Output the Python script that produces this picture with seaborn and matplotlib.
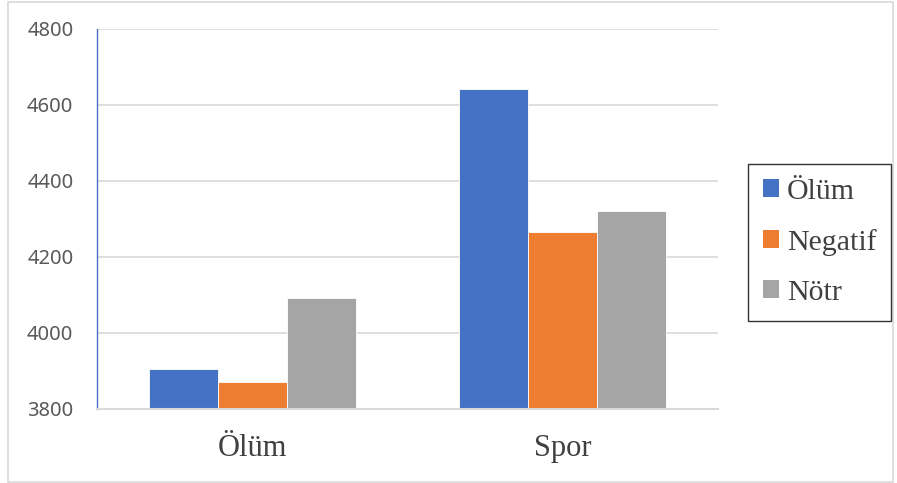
import pandas as pd
import seaborn as sns
import matplotlib.pyplot as plt
from matplotlib.patches import Rectangle, Patch

# data
categories = ['Ölüm', 'Spor']
series = ['Ölüm', 'Negatif', 'Nötr']
olum_vals = [3906, 4642]
negatif_vals = [3872, 4267]
notr_vals = [4091, 4322]
colors = ['#4472C4', '#ED7D31', '#A5A5A5']
yticks = [3800, 4000, 4200, 4400, 4600, 4800]

df = pd.DataFrame({
    'kategori': categories * 3,
    'seri': [s for s in series for _ in categories],
    'deger': olum_vals + negatif_vals + notr_vals,
})

sns.set_style('white')
plt.rcParams['font.family'] = ['Noto Sans', 'DejaVu Sans']

fig = plt.figure(figsize=(8.97, 4.83), dpi=100)
ax = fig.add_axes([97 / 897, 1 - 409 / 483, (718 - 97) / 897, 380 / 483])

sns.barplot(data=df, x='kategori', y='deger', hue='seri', palette=colors,
            width=0.667, gap=0, saturation=1, ax=ax, legend=False,
            edgecolor='white', linewidth=0.6)

ax.set_ylim(3800, 4800)
ax.set_yticks(yticks)
ax.set_xlim(-0.5, 1.5)
ax.yaxis.grid(True, color='#D9D9D9', linewidth=1.2)
ax.set_axisbelow(True)
ax.set_xlabel('')
ax.set_ylabel('')

for s in ['top', 'right']:
    ax.spines[s].set_visible(False)
ax.spines['left'].set_color('#4472C4')
ax.spines['left'].set_linewidth(1)
ax.spines['bottom'].set_color('#D9D9D9')
ax.spines['bottom'].set_linewidth(1.5)

ax.tick_params(axis='y', length=0, pad=17, labelsize=14.5, labelcolor='#595959')
ax.tick_params(axis='x', length=0, pad=18, labelsize=22, labelcolor='#404040')
for lbl in ax.get_yticklabels():
    lbl.set_family(['Noto Sans', 'DejaVu Sans'])
for lbl in ax.get_xticklabels():
    lbl.set_family(['Liberation Serif', 'DejaVu Serif'])

handles = [Patch(facecolor=c, edgecolor='none') for c in colors]
leg = fig.legend(handles, series, loc='upper left',
                 bbox_to_anchor=(748 / 897, 1 - 164 / 483),
                 frameon=True, fancybox=False, edgecolor='black',
                 handlelength=0.55, handleheight=0.55, handletextpad=0.25,
                 labelspacing=0.8, borderpad=0.5, borderaxespad=0,
                 prop={'family': ['Liberation Serif', 'DejaVu Serif'], 'size': 21.5})
leg.get_frame().set_linewidth(1)
for t in leg.get_texts():
    t.set_color('#404040')

# outer chart border
fig.patches.append(Rectangle((8 / 897, 1 / 483), 885 / 897, 480 / 483,
                             transform=fig.transFigure, fill=False,
                             edgecolor='#D9D9D9', linewidth=1.2))

fig.savefig('out.png', dpi=100)
